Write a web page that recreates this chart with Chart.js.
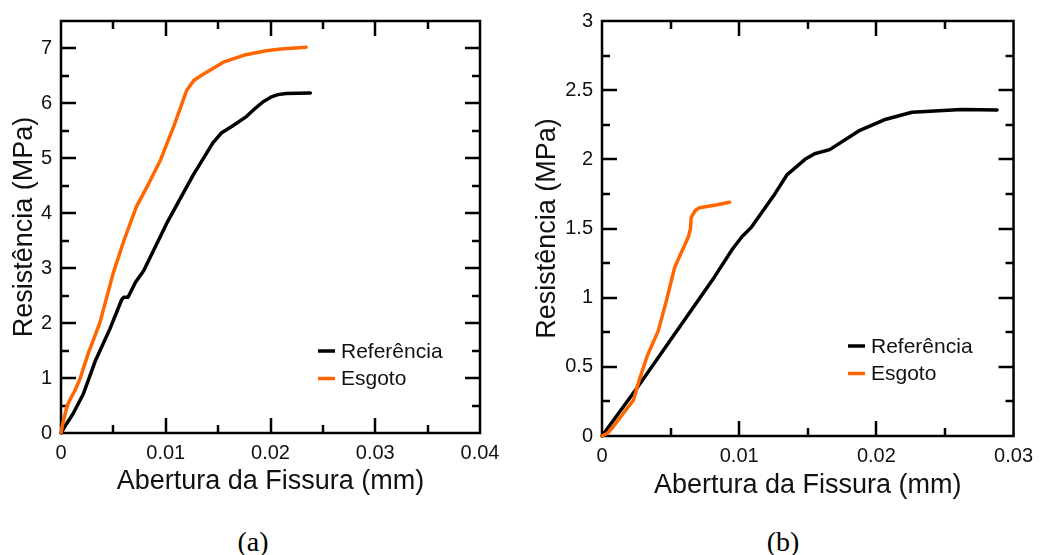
<!DOCTYPE html>
<html><head><meta charset="utf-8">
<script src="https://cdn.jsdelivr.net/npm/chart.js@4.4.1/dist/chart.umd.min.js"></script>
<style>
html,body{margin:0;padding:0;background:#fff;width:1041px;height:555px;overflow:hidden;}
.wrap{position:absolute;top:0;height:520px;}
#wa{left:0;width:520px;}
#wb{left:520px;width:521px;}
.cap{position:absolute;font-family:"Liberation Serif","Times New Roman",serif;font-size:28px;line-height:30px;color:#000;top:527px;width:100px;text-align:center;}
</style></head>
<body>
<div class="wrap" id="wa"><canvas id="ca"></canvas></div>
<div class="wrap" id="wb"><canvas id="cb"></canvas></div>
<div class="cap" style="left:203px">(a)</div>
<div class="cap" style="left:733px">(b)</div>
<script>
// ---------- data ----------
const seriesNames = ["Referência", "Esgoto"];
const seriesColors = ["#000000", "#FF6600"];
const xTitle = "Abertura da Fissura (mm)";
const yTitle = "Resistência (MPa)";

// Chart (a)
const aRefX = [0,0.0005,0.00115,0.00213,0.00325,0.00468,0.0058,0.006,0.0064,0.0071,0.0079,0.0101,0.0126,0.0145,0.0153,0.0163,0.0177,0.0186,0.0193,0.0201,0.0207,0.0215,0.0238];
const aRefY = [0,0.16,0.35,0.71,1.3,1.9,2.43,2.47,2.47,2.74,2.96,3.82,4.69,5.28,5.46,5.58,5.76,5.92,6.03,6.12,6.16,6.18,6.19];
const aEsgX = [0,0.0002,0.0006,0.001,0.0013,0.0018,0.0026,0.0037,0.005,0.006,0.0072,0.0084,0.0095,0.0108,0.012,0.0127,0.0135,0.0155,0.0175,0.0196,0.021,0.0234];
const aEsgY = [0,0.2,0.5,0.66,0.76,0.98,1.45,2.0,2.92,3.5,4.12,4.55,4.97,5.6,6.24,6.42,6.52,6.75,6.88,6.96,6.99,7.02];
const aXTicks = [0,0.01,0.02,0.03,0.04];
const aXTickLabels = ["0","0.01","0.02","0.03","0.04"];
const aXMinor = [0.005,0.015,0.025,0.035];
const aYTicks = [0,1,2,3,4,5,6,7];
const aYTickLabels = ["0","1","2","3","4","5","6","7"];
const aYMinor = [0.5,1.5,2.5,3.5,4.5,5.5,6.5];
const aXMax = 0.04, aYMax = 7.5;

// Chart (b)
const bRefX = [0,0.0025,0.0082,0.0095,0.0102,0.0109,0.0126,0.0135,0.0148,0.0155,0.0166,0.0188,0.0207,0.0226,0.0262,0.0288];
const bRefY = [0,0.34,1.15,1.35,1.44,1.51,1.75,1.89,2.0,2.04,2.07,2.21,2.29,2.34,2.36,2.357];
const bEsgX = [0,0.0004,0.0008,0.0016,0.0023,0.0027,0.0033,0.0041,0.0047,0.0053,0.0063,0.00645,0.0065,0.0068,0.0071,0.0083,0.0093];
const bEsgY = [0,0.02,0.065,0.17,0.26,0.40,0.58,0.76,0.98,1.22,1.44,1.5,1.58,1.63,1.65,1.67,1.69];
const bXTicks = [0,0.01,0.02,0.03];
const bXTickLabels = ["0","0.01","0.02","0.03"];
const bXMinor = [0.005,0.015,0.025];
const bYTicks = [0,0.5,1,1.5,2,2.5,3];
const bYTickLabels = ["0","0.5","1","1.5","2","2.5","3"];
const bYMinor = [0.25,0.75,1.25,1.75,2.25,2.75];
const bXMax = 0.03, bYMax = 3;

// ---------- helpers ----------
const zip = (xs, ys) => xs.map((x, i) => ({x: x, y: ys[i]}));

const frameTicks = {
  id: 'frameTicks',
  beforeDatasetsDraw(chart, args, o) {
    const {ctx, chartArea: a, scales} = chart;
    const xs = scales.x, ys = scales.y;
    ctx.save();
    ctx.strokeStyle = '#000';
    ctx.lineWidth = 2.5;
    ctx.lineCap = 'butt';
    const mark = (vals, len, axis) => {
      vals.forEach(v => {
        ctx.beginPath();
        if (axis === 'x') {
          const p = Math.round(xs.getPixelForValue(v));
          if (p <= a.left + 1 || p >= a.right - 1) return;
          ctx.moveTo(p, a.bottom); ctx.lineTo(p, a.bottom - len);
          ctx.moveTo(p, a.top); ctx.lineTo(p, a.top + len);
        } else {
          const p = Math.round(ys.getPixelForValue(v));
          if (p <= a.top + 1 || p >= a.bottom - 1) return;
          ctx.moveTo(a.left, p); ctx.lineTo(a.left + len, p);
          ctx.moveTo(a.right, p); ctx.lineTo(a.right - len, p);
        }
        ctx.stroke();
      });
    };
    mark(o.xMajor, 15, 'x'); mark(o.xMinor, 8, 'x');
    mark(o.yMajor, 15, 'y'); mark(o.yMinor, 8, 'y');
    ctx.strokeRect(a.left, a.top, a.right - a.left, a.bottom - a.top);
    ctx.restore();
  },
  afterDatasetsDraw(chart, args, o) {
    const {ctx} = chart;
    ctx.save();
    ctx.font = '21px "Liberation Sans", Arial, sans-serif';
    ctx.textBaseline = 'middle';
    ctx.textAlign = 'left';
    chart.data.datasets.forEach((ds, i) => {
      const y = o.legendY + i * o.legendGap;
      ctx.strokeStyle = ds.borderColor;
      ctx.lineWidth = 3.5;
      ctx.beginPath();
      ctx.moveTo(o.legendX, y); ctx.lineTo(o.legendX + 17, y);
      ctx.stroke();
      ctx.fillStyle = '#111';
      ctx.fillText(ds.label, o.legendX + 23, y + 1);
    });
    ctx.restore();
  }
};

function makeChart(id, cfg) {
  const tickFont = {family: '"Liberation Sans", Arial, sans-serif', size: 20};
  const titleFontX = {family: '"Liberation Sans", Arial, sans-serif', size: 27};
  const titleFontY = {family: '"Liberation Sans", Arial, sans-serif', size: 27};
  return new Chart(document.getElementById(id), {
    type: 'line',
    data: {
      datasets: [
        {label: seriesNames[0], data: zip(cfg.refX, cfg.refY), borderColor: seriesColors[0], order: 1},
        {label: seriesNames[1], data: zip(cfg.esgX, cfg.esgY), borderColor: seriesColors[1], order: 0}
      ].map(d => Object.assign(d, {borderWidth: 3.5, pointRadius: 0, tension: 0, fill: false, clip: 4, borderJoinStyle: 'round', borderCapStyle: 'round'}))
    },
    options: {
      responsive: true,
      maintainAspectRatio: false,
      animation: false,
      events: [],
      layout: {padding: cfg.padding},
      plugins: {
        legend: {display: false},
        tooltip: {enabled: false},
        frameTicks: {xMajor: cfg.xTicks, xMinor: cfg.xMinor, yMajor: cfg.yTicks, yMinor: cfg.yMinor,
                     legendX: cfg.legendX, legendY: cfg.legendY, legendGap: cfg.legendGap}
      },
      scales: {
        x: {
          type: 'linear', min: 0, max: cfg.xMax,
          grid: {display: false, drawTicks: false},
          border: {display: false},
          afterBuildTicks: s => { s.ticks = cfg.xTicks.map(v => ({value: v})); },
          afterFit: s => { s.height = cfg.xHeight; },
          ticks: {autoSkip: false, maxRotation: 0, minRotation: 0, padding: 8, color: '#111', font: tickFont,
                  callback: (v, i) => cfg.xTickLabels[i]},
          title: {display: true, text: xTitle, color: '#111', font: titleFontX, padding: {top: 0, bottom: cfg.xTitlePad}}
        },
        y: {
          type: 'linear', min: 0, max: cfg.yMax,
          grid: {display: false, drawTicks: false},
          border: {display: false},
          afterBuildTicks: s => { s.ticks = cfg.yTicks.map(v => ({value: v})); },
          afterFit: s => { s.width = cfg.yWidth; },
          ticks: {autoSkip: false, padding: 9, color: '#111', font: tickFont,
                  callback: (v, i) => cfg.yTickLabels[i]},
          title: {display: true, text: yTitle, color: '#111', font: titleFontY, padding: {top: cfg.yTitlePad, bottom: 0}}
        }
      }
    },
    plugins: [frameTicks]
  });
}

makeChart('ca', {
  refX: aRefX, refY: aRefY, esgX: aEsgX, esgY: aEsgY,
  xTicks: aXTicks, xTickLabels: aXTickLabels, xMinor: aXMinor,
  yTicks: aYTicks, yTickLabels: aYTickLabels, yMinor: aYMinor,
  xMax: aXMax, yMax: aYMax,
  padding: {left: 0, right: 40, top: 14, bottom: 0},
  xHeight: 87, yWidth: 61, xTitlePad: 22, yTitlePad: 8,
  legendX: 318, legendY: 351, legendGap: 27.5
});
makeChart('cb', {
  refX: bRefX, refY: bRefY, esgX: bEsgX, esgY: bEsgY,
  xTicks: bXTicks, xTickLabels: bXTickLabels, xMinor: bXMinor,
  yTicks: bYTicks, yTickLabels: bYTickLabels, yMinor: bYMinor,
  xMax: bXMax, yMax: bYMax,
  padding: {left: 0, right: 22, top: 20, bottom: 0},
  xHeight: 84, yWidth: 82, xTitlePad: 18, yTitlePad: 11,
  legendX: 328, legendY: 346, legendGap: 27.5
});
</script>
</body></html>
